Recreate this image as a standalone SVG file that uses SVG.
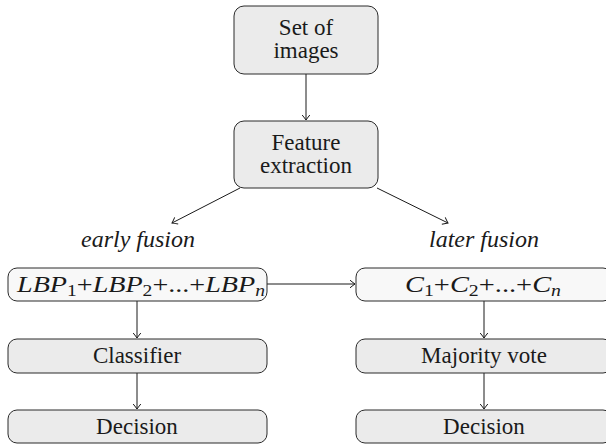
<svg xmlns="http://www.w3.org/2000/svg" width="606" height="445" viewBox="0 0 606 445">
<style>
.box{fill:#ebebeb;stroke:#2b2b2b;stroke-width:1}
.lbox{fill:#f8f8f8;stroke:#2b2b2b;stroke-width:1}
.t{font-size:23px;fill:#1a1a1a;text-anchor:middle}
.m{font-size:23px}
.i{font-style:italic}
.e{font-size:24px}
.s{font-size:16px}
.c{fill:none;stroke:#1a1a1a;stroke-width:1}
</style>
<defs>
<marker id="ah" markerWidth="10" markerHeight="10" refX="0" refY="0" viewBox="-6 -5 8 10" orient="auto" markerUnits="userSpaceOnUse">
<path d="M-5,-3.8 Q-1.5,-1 0,0 Q-1.5,1 -5,3.8" fill="none" stroke="#1a1a1a" stroke-width="1"/>
</marker>
</defs>
<rect width="606" height="445" fill="#ffffff"/>
<g id="connectors">
<line class="c" x1="306" y1="74" x2="306" y2="120" marker-end="url(#ah)"/>
<line class="c" x1="240" y1="188" x2="172" y2="223" marker-end="url(#ah)"/>
<line class="c" x1="377" y1="188" x2="448" y2="223" marker-end="url(#ah)"/>
<line class="c" x1="267" y1="284" x2="355" y2="284" marker-end="url(#ah)"/>
<line class="c" x1="137" y1="301" x2="137" y2="338" marker-end="url(#ah)"/>
<line class="c" x1="137" y1="373" x2="137" y2="409" marker-end="url(#ah)"/>
<line class="c" x1="484" y1="301" x2="484" y2="338" marker-end="url(#ah)"/>
<line class="c" x1="484" y1="373" x2="484" y2="409" marker-end="url(#ah)"/>
</g>
<g id="set-of-images">
<rect class="box" x="234" y="6" width="144" height="68" rx="10"/>
<text class="t" font-family="Liberation Serif" x="306" y="35">Set of</text>
<text class="t" font-family="Liberation Serif" x="306" y="58">images</text>
</g>
<g id="feature-extraction">
<rect class="box" x="234" y="121" width="144" height="67" rx="10"/>
<text class="t" font-family="Liberation Serif" x="306" y="150">Feature</text>
<text class="t" font-family="Liberation Serif" x="306" y="173">extraction</text>
</g>
<g id="early-fusion">
<text class="t i e" font-family="Liberation Serif" x="138" y="247">early fusion</text>
</g>
<g id="later-fusion">
<text class="t i e" font-family="Liberation Serif" x="484" y="247">later fusion</text>
</g>
<g id="lbp">
<rect class="lbox" x="8" y="268" width="259" height="33" rx="9"/>
<text class="t m" font-family="Liberation Serif" x="141" y="292" textLength="248" lengthAdjust="spacingAndGlyphs"><tspan class="i">LBP</tspan><tspan class="s" dy="4">1</tspan><tspan dy="-4">+</tspan><tspan class="i">LBP</tspan><tspan class="s" dy="4">2</tspan><tspan dy="-4">+...+</tspan><tspan class="i">LBP</tspan><tspan class="i s" dy="4">n</tspan></text>
</g>
<g id="c-sum">
<rect class="lbox" x="356" y="268" width="256" height="33" rx="9"/>
<text class="t m" font-family="Liberation Serif" x="483" y="292" textLength="156" lengthAdjust="spacingAndGlyphs"><tspan class="i">C</tspan><tspan class="s" dy="4">1</tspan><tspan dy="-4">+</tspan><tspan class="i">C</tspan><tspan class="s" dy="4">2</tspan><tspan dy="-4">+...+</tspan><tspan class="i">C</tspan><tspan class="i s" dy="4">n</tspan></text>
</g>
<g id="classifier">
<rect class="box" x="8" y="339" width="259" height="34" rx="9"/>
<text class="t" font-family="Liberation Serif" x="137" y="363">Classifier</text>
</g>
<g id="majority-vote">
<rect class="box" x="356" y="339" width="256" height="34" rx="9"/>
<text class="t" font-family="Liberation Serif" x="484" y="363">Majority vote</text>
</g>
<g id="decision-left">
<rect class="box" x="8" y="410" width="259" height="33" rx="9"/>
<text class="t" font-family="Liberation Serif" x="137" y="434">Decision</text>
</g>
<g id="decision-right">
<rect class="box" x="356" y="410" width="256" height="33" rx="9"/>
<text class="t" font-family="Liberation Serif" x="484" y="434">Decision</text>
</g>
</svg>
